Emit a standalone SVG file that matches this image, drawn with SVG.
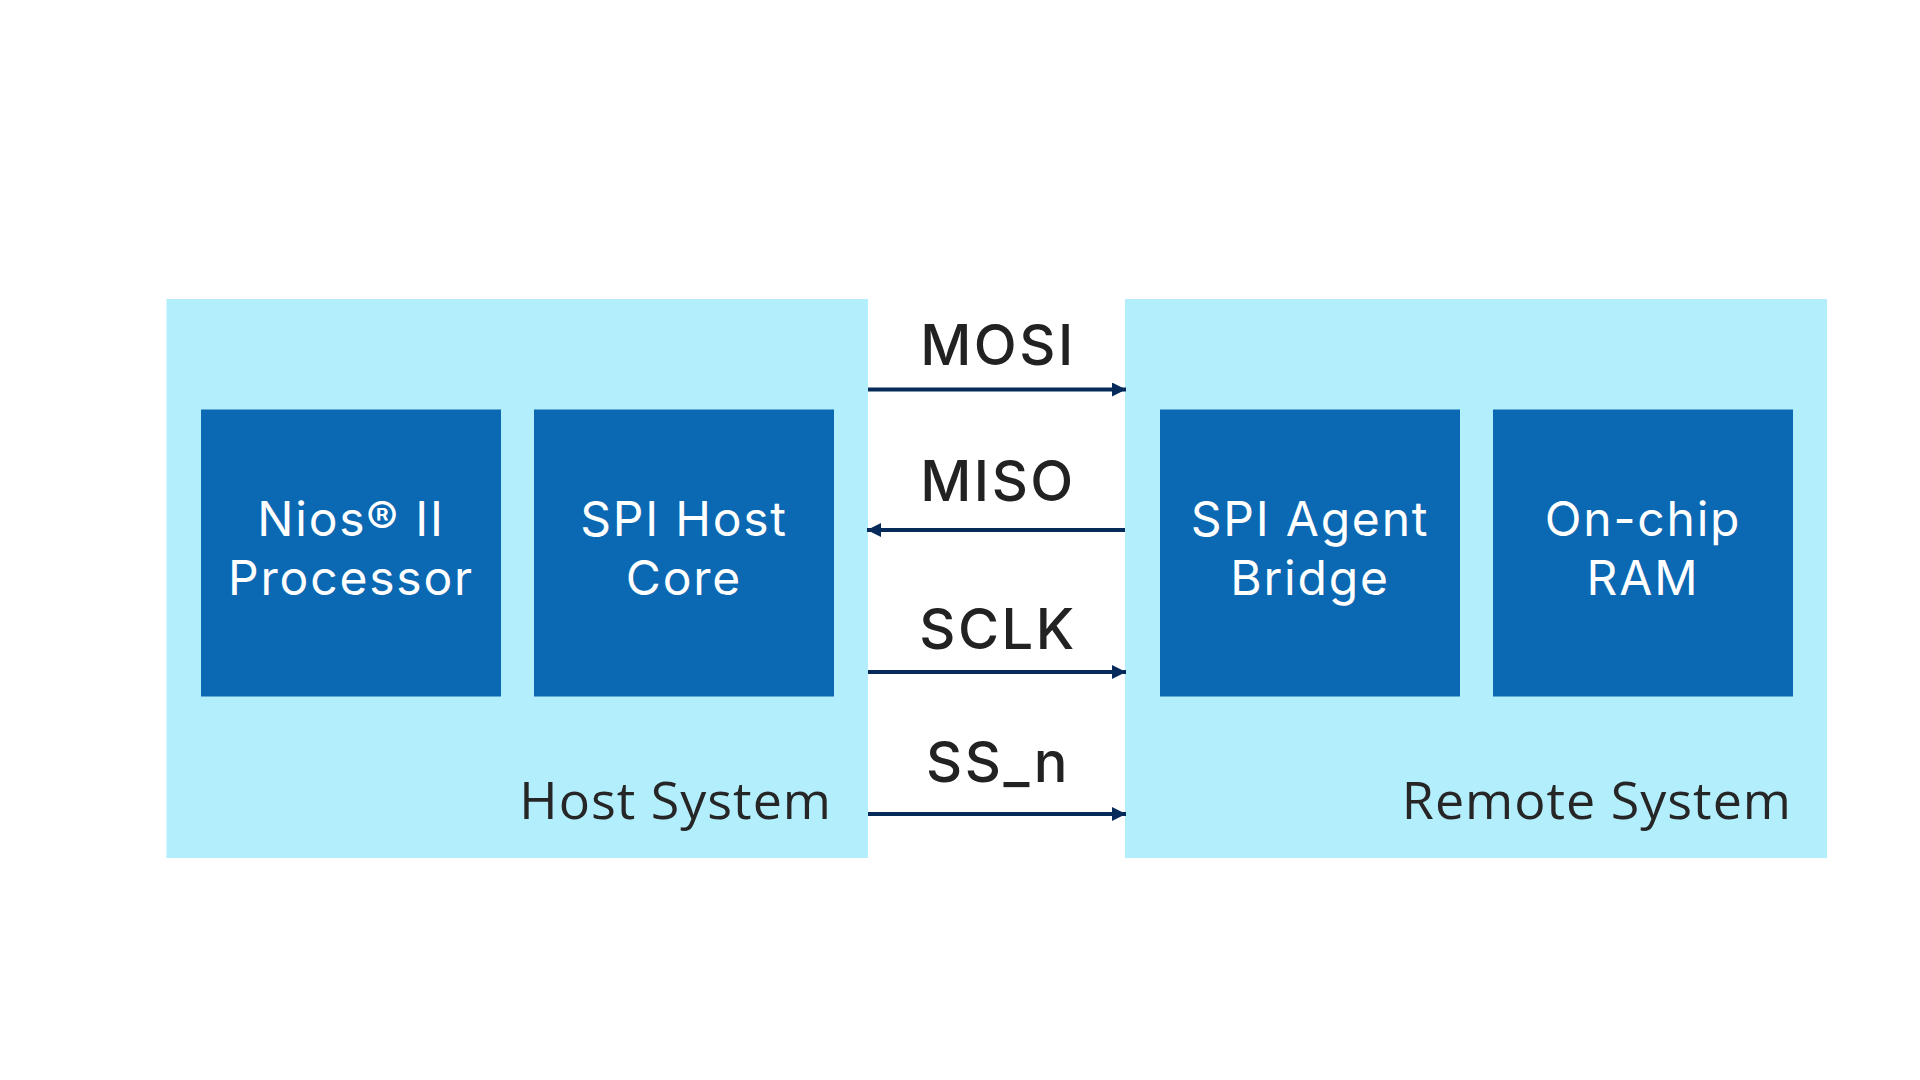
<svg xmlns="http://www.w3.org/2000/svg" width="1920" height="1080" viewBox="0 0 1920 1080">
<defs>
<style>
.sys{fill:#b3eefc}
.node{fill:#0b68b3}
.nt{font-family:Inter,"Noto Sans",sans-serif;font-size:48px;letter-spacing:1.8px;fill:#ffffff;text-anchor:middle}
.st{font-family:"Open Sans","Noto Sans",sans-serif;font-size:52px;letter-spacing:1px;fill:#262626;text-anchor:end}
.sig{font-family:Inter,"Noto Sans",sans-serif;font-size:56px;font-weight:500;letter-spacing:2.5px;fill:#222222;text-anchor:middle}
.wire{stroke:#062a5a;stroke-width:4;fill:none}
</style>
<marker id="ah" viewBox="0 0 14 14" refX="14" refY="7" markerWidth="14" markerHeight="14" markerUnits="userSpaceOnUse" orient="auto-start-reverse">
<path d="M0,0 L14,7 L0,14 Z" fill="#062a5a"/>
</marker>
</defs>
<rect width="1920" height="1080" fill="#ffffff"/>
<g id="host-system">
<rect class="sys" x="166.5" y="299" width="701.5" height="559"/>
<text class="st" x="832" y="819">Host System</text>
</g>
<g id="remote-system">
<rect class="sys" x="1125" y="299" width="702" height="559"/>
<text class="st" x="1792" y="819">Remote System</text>
</g>
<g id="nios">
<rect class="node" x="201" y="409.5" width="300" height="287"/>
<text class="nt" x="351" y="536">Nios® II</text>
<text class="nt" x="351" y="595">Processor</text>
</g>
<g id="spi-host">
<rect class="node" x="534" y="409.5" width="300" height="287"/>
<text class="nt" x="684" y="536">SPI Host</text>
<text class="nt" x="684" y="595">Core</text>
</g>
<g id="spi-agent">
<rect class="node" x="1160" y="409.5" width="300" height="287"/>
<text class="nt" x="1310" y="536">SPI Agent</text>
<text class="nt" x="1310" y="595">Bridge</text>
</g>
<g id="onchip">
<rect class="node" x="1493" y="409.5" width="300" height="287"/>
<text class="nt" x="1643" y="536">On-chip</text>
<text class="nt" x="1643" y="595">RAM</text>
</g>
<g id="connectors">
<line class="wire" x1="868" y1="389.5" x2="1126" y2="389.5" marker-end="url(#ah)"/>
<line class="wire" x1="1125" y1="530" x2="867" y2="530" marker-end="url(#ah)"/>
<line class="wire" x1="868" y1="672" x2="1126" y2="672" marker-end="url(#ah)"/>
<line class="wire" x1="868" y1="814" x2="1126" y2="814" marker-end="url(#ah)"/>
<text class="sig" x="998" y="365">MOSI</text>
<text class="sig" x="998" y="501">MISO</text>
<text class="sig" x="998" y="649">SCLK</text>
<text class="sig" x="998" y="782">SS_n</text>
</g>
</svg>
